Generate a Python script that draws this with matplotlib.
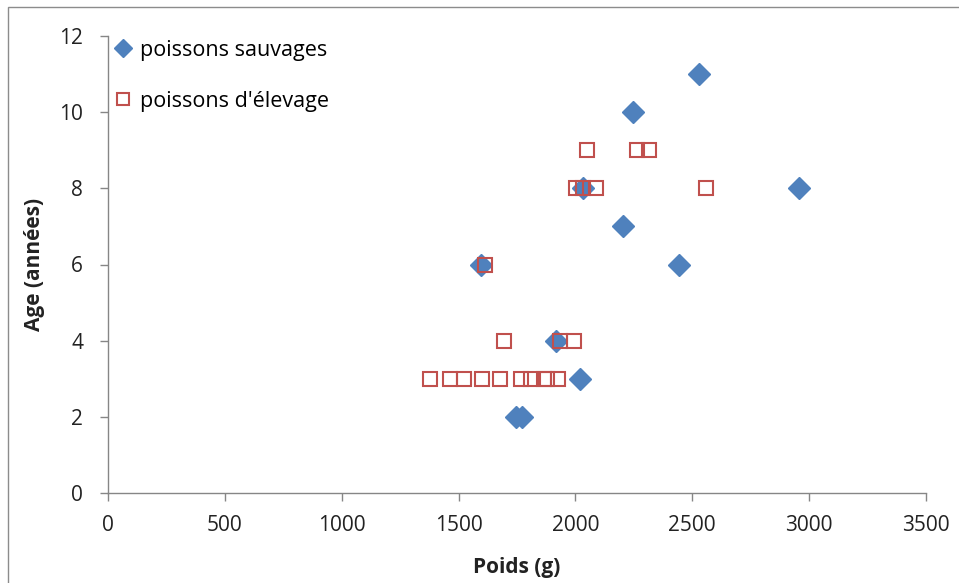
import matplotlib
matplotlib.use("Agg")
import matplotlib.pyplot as plt
from matplotlib.patches import Rectangle

plt.rcParams['font.family'] = ['Open Sans', 'DejaVu Sans']

# Data
wild_weight = [2530, 2246, 2957, 2032, 2204, 2443, 1596, 1917, 2020, 1746, 1771]
wild_age = [11, 10, 8, 8, 7, 6, 6, 4, 3, 2, 2]

farm_weight = [2050, 2264, 2315, 2003, 2033, 2088, 2559, 1613, 1694, 1934, 1994,
               1378, 1463, 1523, 1600, 1677, 1767, 1810, 1865, 1878, 1925]
farm_age = [9, 9, 9, 8, 8, 8, 8, 6, 4, 4, 4,
            3, 3, 3, 3, 3, 3, 3, 3, 3, 3]

xticks = [0, 500, 1000, 1500, 2000, 2500, 3000, 3500]
yticks = [0, 2, 4, 6, 8, 10, 12]

W, H = 959, 583
fig = plt.figure(figsize=(W / 100, H / 100), dpi=100)
fig.patches.append(Rectangle((8 / W, -0.01), 1.0, 1 - 7 / H + 0.01, transform=fig.transFigure,
                             fill=False, edgecolor='#8c8c8c', linewidth=1.0))
ax = fig.add_axes([108 / W, 1 - 493 / H, (926 - 108) / W, (493 - 36) / H])

ax.plot(wild_weight, wild_age, linestyle='none', marker='D', markersize=11,
        color='#4F81BD', markeredgecolor='#4F81BD', label='poissons sauvages', zorder=3)
ax.plot(farm_weight, farm_age, linestyle='none', marker='s', markersize=9.5,
        markerfacecolor='none', markeredgecolor='#C0504D', markeredgewidth=1.5,
        label="poissons d'élevage", zorder=4)

ax.set_xlim(0, 3500)
ax.set_ylim(0, 12)
ax.set_xticks(xticks)
ax.set_yticks(yticks)
ax.tick_params(axis='both', labelsize=15, colors='#868686', labelcolor='#222222',
               length=6, width=1, direction='out')
ax.tick_params(axis='x', pad=10)
ax.tick_params(axis='y', pad=12)
for s in ['top', 'right']:
    ax.spines[s].set_visible(False)
for s in ['left', 'bottom']:
    ax.spines[s].set_color('#868686')
    ax.spines[s].set_linewidth(1)

ax.set_xlabel('Poids (g)', fontsize=15, fontweight='bold', color='#222222', labelpad=15)
ax.set_ylabel('Age (années)', fontsize=15, fontweight='bold', color='#222222', labelpad=10)

leg = ax.legend(loc='upper left', bbox_to_anchor=(0.0, 1.011), frameon=False, fontsize=15.5,
                handlelength=0.6, handletextpad=0.5, labelspacing=1.4, borderaxespad=0.0,
                markerscale=0.85)

fig.savefig('out.png', dpi=100)
